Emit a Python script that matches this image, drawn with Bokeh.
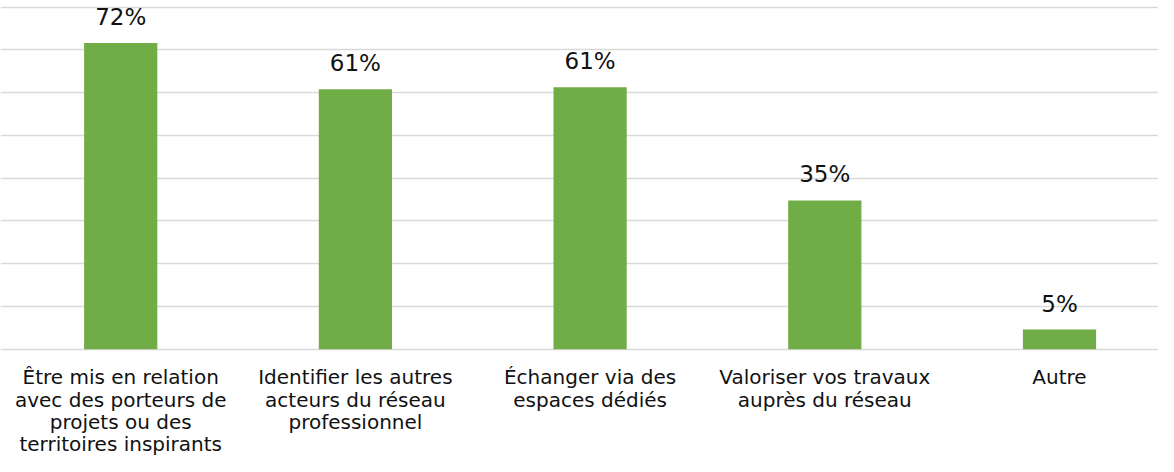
from bokeh.plotting import figure
from bokeh.models import ColumnDataSource, Range1d, FixedTicker
from bokeh.core.properties import value
from bokeh.embed import file_html
from bokeh.resources import INLINE

categories = [
    "Être mis en relation\navec des porteurs de\nprojets ou des\nterritoires inspirants",
    "Identifier les autres\nacteurs du réseau\nprofessionnel",
    "Échanger via des\nespaces dédiés",
    "Valoriser vos travaux\nauprès du réseau",
    "Autre",
]
values = [71.6, 60.8, 61.3, 34.8, 4.6]
labels = ["72%", "61%", "61%", "35%", "5%"]
grid_ticks = [0, 10, 20, 30, 40, 50, 60, 70, 80]

FONT = "DejaVu Sans"
idx = list(range(len(categories)))
src = ColumnDataSource(dict(x=idx, cat=categories, val=values, lab=labels,
                            zero=[0] * len(values)))

W, H = 1158, 456
CAT_PX = 234.7          # pixels per category
FIRST_X = 120.2         # centre of first category (px from figure left)
PX_PER_UNIT = 4.275     # pixels per percentage point
BASE_Y = 348.7          # baseline position inside the figure (px from top)

p = figure(
    x_range=Range1d(-FIRST_X / CAT_PX, (W - FIRST_X) / CAT_PX),
    y_range=Range1d(-(H - BASE_Y) / PX_PER_UNIT, BASE_Y / PX_PER_UNIT),
    width=W, height=H,
    min_border_left=0, min_border_right=0, min_border_top=0, min_border_bottom=0,
    output_backend="svg", toolbar_location=None,
)

p.vbar(x="x", top="val", width=0.312, source=src, color="#70AD47", line_color=None)

# value labels above bars
p.text(x="x", y="val", text="lab", source=src, y_offset=-26,
       text_align="center", text_baseline="alphabetic",
       text_font=value(FONT), text_font_size="23px", text_color="#111111")

# category labels below the baseline
p.text(x="x", y="zero", text="cat", source=src, y_offset=16,
       text_align="center", text_baseline="top", text_line_height=0.93,
       text_font=value(FONT), text_font_size="20px", text_color="#111111")

p.axis.visible = False
p.ygrid.ticker = FixedTicker(ticks=grid_ticks)
p.ygrid.grid_line_color = "#d9d9d9"
p.ygrid.grid_line_width = 1.5
p.xgrid.grid_line_color = None
p.outline_line_color = None

open("out.html", "w").write(file_html(p, INLINE))
